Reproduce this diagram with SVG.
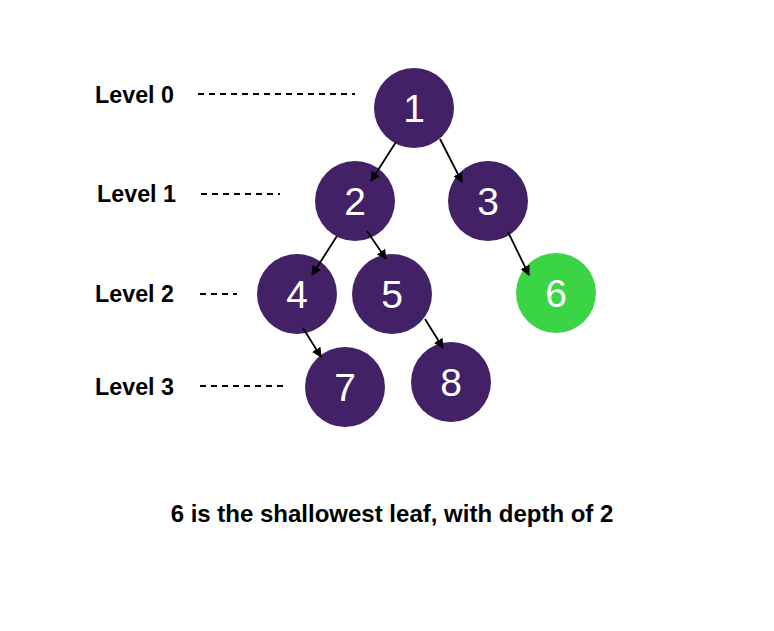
<svg xmlns="http://www.w3.org/2000/svg" width="774" height="631" viewBox="0 0 774 631">
<style>
.lvl{font-family:"Liberation Sans",Arial,sans-serif;font-weight:bold;font-size:23.3px;fill:#000}
.dash{stroke:#000;stroke-width:2;stroke-dasharray:6 5;fill:none}
.node circle{fill:#432166}
.node.leaf circle{fill:#3bd445}
.node text{font-family:"Liberation Sans",Arial,sans-serif;font-size:39px;fill:#fff;text-anchor:middle}
.edge{stroke:#000;stroke-width:1.8;fill:none;marker-end:url(#ah)}
.cap{font-family:"Liberation Sans",Arial,sans-serif;font-weight:bold;font-size:24px;fill:#000;text-anchor:middle}
</style>
<defs>
<marker id="ah" viewBox="0 0 10 10" refX="9" refY="5" markerWidth="10" markerHeight="10" markerUnits="userSpaceOnUse" orient="auto">
<path d="M0,0 L10,5 L0,10 z" fill="#000"/>
</marker>
</defs>
<rect width="774" height="631" fill="#fff"/>
<g id="levels">
<text class="lvl" x="95" y="103">Level 0</text>
<line class="dash" x1="198" y1="94" x2="355" y2="94"/>
<text class="lvl" x="97" y="202">Level 1</text>
<line class="dash" x1="201" y1="194" x2="280" y2="194"/>
<text class="lvl" x="95" y="302">Level 2</text>
<line class="dash" x1="200" y1="294" x2="237" y2="294"/>
<text class="lvl" x="95" y="395">Level 3</text>
<line class="dash" x1="200" y1="386" x2="287" y2="386"/>
</g>
<g id="n1" class="node"><circle cx="414" cy="108" r="40"/><text x="414" y="122">1</text></g>
<g id="n2" class="node"><circle cx="355" cy="201" r="40"/><text x="355" y="215">2</text></g>
<g id="n3" class="node"><circle cx="488" cy="201" r="40"/><text x="488" y="215">3</text></g>
<g id="n4" class="node"><circle cx="297" cy="294" r="40"/><text x="297" y="308">4</text></g>
<g id="n5" class="node"><circle cx="392" cy="294" r="40"/><text x="392" y="308">5</text></g>
<g id="n6" class="node leaf"><circle cx="556" cy="293" r="40"/><text x="556" y="307">6</text></g>
<g id="n7" class="node"><circle cx="345" cy="387" r="40"/><text x="345" y="401">7</text></g>
<g id="n8" class="node"><circle cx="451" cy="382" r="40"/><text x="451" y="396">8</text></g>
<g id="connectors">
<line class="edge" x1="396" y1="142" x2="371" y2="181"/>
<line class="edge" x1="440" y1="139" x2="462" y2="182"/>
<line class="edge" x1="337" y1="236" x2="312" y2="275"/>
<line class="edge" x1="367" y1="231" x2="386" y2="259"/>
<line class="edge" x1="508" y1="232" x2="529" y2="275"/>
<line class="edge" x1="303" y1="328" x2="321" y2="357"/>
<line class="edge" x1="425" y1="319" x2="443" y2="348"/>
</g>
<text class="cap" x="392" y="522">6 is the shallowest leaf, with depth of 2</text>
</svg>
